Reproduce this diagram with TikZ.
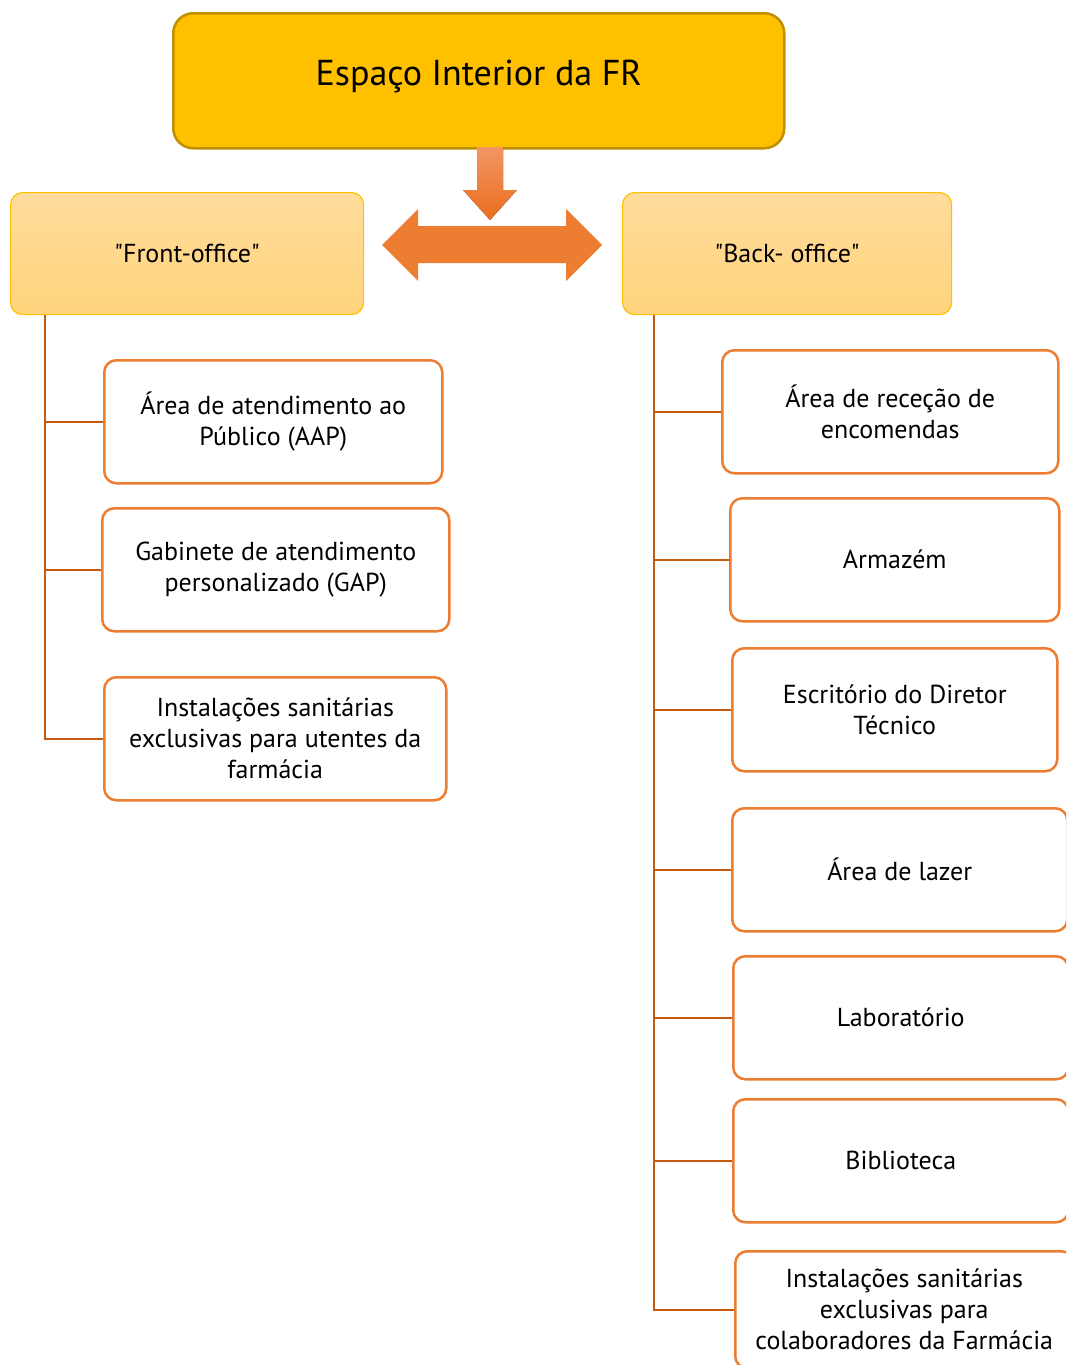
\documentclass[tikz,border=0pt]{standalone}
\usepackage{fontspec}
\setmainfont{PT Sans}
\usetikzlibrary{positioning}
\definecolor{gold}{HTML}{FFC000}
\definecolor{goldline}{HTML}{BF9000}
\definecolor{officetop}{HTML}{FFDC9C}
\definecolor{officebot}{HTML}{FFD47C}
\definecolor{boxline}{HTML}{ED7D31}
\definecolor{linkc}{HTML}{C55A11}
\definecolor{arrowtop}{HTML}{F29563}
\definecolor{arrowbot}{HTML}{EB6E1E}

\begin{document}
\begin{tikzpicture}[x=1pt,y=-1pt,
		topbox/.style={draw=goldline,line width=2.5pt,fill=gold,rounded corners=20pt,minimum width=611,minimum height=135,anchor=north west,font=\fontsize{36}{42}\selectfont},
		officebox/.style={draw=gold,line width=1.2pt,top color=officetop,bottom color=officebot,rounded corners=12pt,minimum height=122,anchor=north west,font=\fontsize{26}{31}\selectfont},
		roombox/.style={draw=boxline,line width=2.5pt,fill=white,rounded corners=12pt,minimum height=123,anchor=north west,align=center,font=\fontsize{26}{31}\selectfont},
		link/.style={draw=linkc,line width=2.5pt}]
		\useasboundingbox (0,0) rectangle (1066,1365);
		\clip (0,0) rectangle (1066,1365);

		\node[topbox]						(fr)		at (172,12)		{\raisebox{16pt}{Espaço Interior da FR}};
		\node[officebox,minimum width=353]	(front)		at (10,192)		{\textquotedbl Front-office\textquotedbl};
		\node[officebox,minimum width=329]	(back)		at (622,192)	{\textquotedbl Back- office\textquotedbl};

		% arrows between the boxes
		\fill[top color=arrowtop,bottom color=arrowbot] (477,147) -- (503,147) -- (503,190) -- (517,190) -- (490,220) -- (463,190) -- (477,190) -- cycle;
		\fill[boxline] (382,245) -- (418,209) -- (418,226) -- (566,226) -- (566,209) -- (602,245) -- (566,281) -- (566,263) -- (418,263) -- (418,281) -- cycle;

		\node[roombox,minimum width=338]	(aap)		at (103,359)	{Área de atendimento ao\\Público (AAP)};
		\node[roombox,minimum width=347]	(gap)		at (101,507)	{Gabinete de atendimento\\personalizado (GAP)};
		\node[roombox,minimum width=342]	(wcu)		at (103,676)	{Instalações sanitárias\\exclusivas para utentes da\\farmácia};

		\node[roombox,minimum width=336]	(rec)		at (721,349)	{Área de receção de\\encomendas};
		\node[roombox,minimum width=329]	(arm)		at (729,497)	{Armazém};
		\node[roombox,minimum width=325]	(dt)		at (731,647)	{Escritório do Diretor\\Técnico};
		\node[roombox,minimum width=335]	(laz)		at (731,807)	{Área de lazer};
		\node[roombox,minimum width=335]	(lab)		at (732,955)	{Laboratório};
		\node[roombox,minimum width=335]	(bib)		at (732,1098)	{Biblioteca};
		\node[roombox,minimum width=338,minimum height=117]	(wcc)	at (734,1250)	{Instalações sanitárias\\exclusivas para\\colaboradores da Farmácia};

		\coordinate (ft) at ([xshift=35]front.south west);
		\coordinate (bt) at ([xshift=32]back.south west);

		\draw[link] (ft) |- (aap.west);
		\draw[link] (ft) |- (gap.west);
		\draw[link] (ft) |- (wcu.west);

		\draw[link] (bt) |- (rec.west);
		\draw[link] (bt) |- (arm.west);
		\draw[link] (bt) |- (dt.west);
		\draw[link] (bt) |- (laz.west);
		\draw[link] (bt) |- (lab.west);
		\draw[link] (bt) |- (bib.west);
		\draw[link] (bt) |- (wcc.west);
	\end{tikzpicture}
\end{document}
